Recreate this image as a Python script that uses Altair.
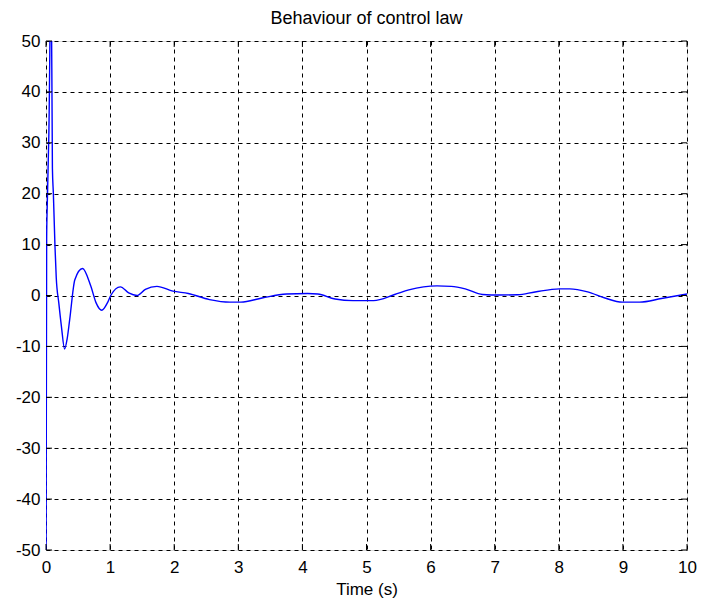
import altair as alt
import pandas as pd

# Data
time_s = [0.0, 0.01, 0.02, 0.045, 0.08, 0.1, 0.115, 0.14, 0.16, 0.2, 0.24, 0.29, 0.33, 0.37,
          0.45, 0.57, 0.70, 0.78, 0.87, 0.96, 1.01, 1.16, 1.29, 1.42, 1.55, 1.73, 1.98,
          2.22, 2.55, 2.87, 3.04, 3.37, 3.75, 4.08, 4.24, 4.51, 4.79, 5.11, 5.44, 5.66,
          6.10, 6.32, 6.54, 6.81, 7.08, 7.36, 7.63, 8.01, 8.17, 8.45, 8.72, 8.99, 9.26,
          9.60, 10.0]
control = [-60, 11, 18, 32, 65, 25, 20, 9.7, 3.5, -1.5, -6, -10.5, -8.5, -4.7,
           3.1, 5.3, 1.8, -1.4, -2.9, -1.4, 0, 1.7, 0.5, 0.0, 1.2, 1.8, 0.85,
           0.4, -0.8, -1.3, -1.3, -0.5, 0.3, 0.4, 0.3, -0.7, -1.0, -1.0, 0.2, 1.1,
           1.9, 1.8, 1.3, 0.2, 0.1, 0.15, 0.7, 1.3, 1.3, 0.7, -0.5, -1.3, -1.3,
           -0.6, 0.3]
x_ticks = [0, 1, 2, 3, 4, 5, 6, 7, 8, 9, 10]
y_ticks = [-50, -40, -30, -20, -10, 0, 10, 20, 30, 40, 50]

W, H = 641, 509
FONT = "Liberation Sans"

df = pd.DataFrame({"t": time_s, "u": control})
xt = pd.DataFrame({"x": x_ticks})
yt = pd.DataFrame({"y": y_ticks})

xscale = alt.Scale(domain=[0, 10], nice=False, zero=False)
yscale = alt.Scale(domain=[-50, 50], nice=False, zero=False)

line = alt.Chart(df).mark_line(color="#0000ff", strokeWidth=1.4, clip=True,
                               interpolate="monotone").encode(
    x=alt.X("t:Q", scale=xscale,
            axis=alt.Axis(values=x_ticks, title="Time (s)", grid=True,
                          gridDash=[4, 4], gridColor="#000000", gridOpacity=1,
                          gridWidth=1, ticks=False, domain=False,
                          labelExpr="toString(datum.value)",
                          labelFont=FONT, labelFontSize=17, labelColor="#000000",
                          labelPadding=9, labelFlush=False,
                          titleFont=FONT, titleFontSize=17, titleFontWeight="normal",
                          titleColor="#000000", titlePadding=6)),
    y=alt.Y("u:Q", scale=yscale,
            axis=alt.Axis(values=y_ticks, title=None, grid=True,
                          gridDash=[4, 4], gridColor="#000000", gridOpacity=1,
                          gridWidth=1, ticks=False, domain=False,
                          labelExpr="toString(datum.value)",
                          labelFont=FONT, labelFontSize=17, labelColor="#000000",
                          labelPadding=6, labelFlush=False)),
)

tick_len = 6
xb = alt.Chart(xt).mark_rule(color="#000000", strokeWidth=1).encode(
    x=alt.X("x:Q", scale=xscale), y=alt.value(H), y2=alt.value(H - tick_len))
xtop = alt.Chart(xt).mark_rule(color="#000000", strokeWidth=1).encode(
    x=alt.X("x:Q", scale=xscale), y=alt.value(0), y2=alt.value(tick_len))
yl = alt.Chart(yt).mark_rule(color="#000000", strokeWidth=1).encode(
    y=alt.Y("y:Q", scale=yscale), x=alt.value(0), x2=alt.value(tick_len))
yr = alt.Chart(yt).mark_rule(color="#000000", strokeWidth=1).encode(
    y=alt.Y("y:Q", scale=yscale), x=alt.value(W), x2=alt.value(W - tick_len))

chart = alt.layer(line, xb, xtop, yl, yr).properties(
    width=W, height=H,
    title=alt.TitleParams("Behaviour of control law", font=FONT, fontSize=18,
                          fontWeight="normal", color="#000000", offset=4,
                          anchor="middle"),
    autosize=alt.AutoSizeParams(type="none"),
    padding={"left": 38, "top": 33, "right": 10, "bottom": 56},
).configure_view(stroke="#000000", strokeWidth=1).configure(background="#ffffff")

chart.save("out.html", embed_options={"renderer": "svg", "actions": False})
